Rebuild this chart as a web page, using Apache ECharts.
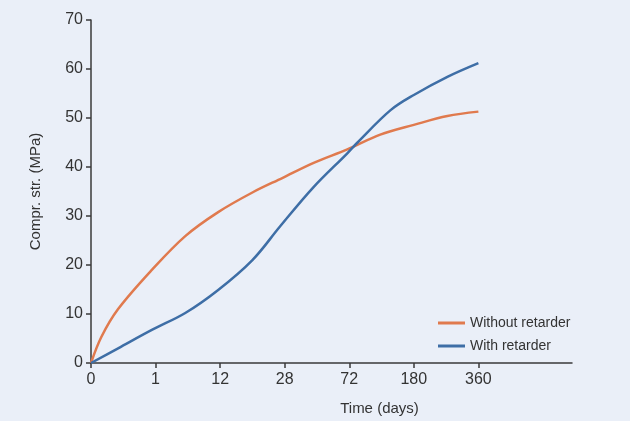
<!DOCTYPE html>
<html>
<head>
<meta charset="utf-8">
<script src="https://cdn.jsdelivr.net/npm/echarts@6/dist/echarts.min.js"></script>
<style>
  html, body { margin: 0; padding: 0; background: #eaeff8; }
  #chart { width: 630px; height: 421px; }
</style>
</head>
<body>
<div id="chart"></div>
<script>
// tick labels on the time axis (equally spaced, not to scale)
var timeLabels = ['0', '1', '12', '28', '72', '180', '360'];
var tickPos = [0, 1, 2, 3, 4, 5, 6];

// [position along the time axis, strength MPa]
var withoutRetarder = [
  [0, 0], [0.16, 5.3], [0.42, 11], [0.95, 19.1], [1.46, 25.9], [1.97, 30.8],
  [2.5, 34.8], [2.97, 37.8], [3.44, 40.8], [3.97, 43.6], [4.48, 46.6],
  [5.0, 48.6], [5.52, 50.4], [6.0, 51.3]
];
var withRetarder = [
  [0, 0], [0.42, 3.0], [0.95, 6.8], [1.46, 10.2], [1.97, 14.9], [2.5, 21],
  [2.93, 27.9], [3.44, 35.8], [3.97, 42.8], [4.12, 44.9], [4.64, 51.6],
  [5.0, 54.7], [5.52, 58.4], [6.0, 61.2]
];

var font = 'Liberation Sans, Arial, sans-serif';
var axisColor = '#3a3a3a';

var myChart = echarts.init(document.getElementById('chart'));

myChart.setOption({
  backgroundColor: '#eaeff8',
  animation: false,
  grid: { left: 91, right: 58, top: 20, bottom: 58, containLabel: false },
  legend: {
    orient: 'vertical',
    left: 433,
    top: 311,
    itemWidth: 27,
    itemHeight: 3,
    itemGap: 9,
    icon: 'rect',
    textStyle: { fontFamily: font, fontSize: 14, color: '#333' },
    data: ['Without retarder', 'With retarder']
  },
  xAxis: {
    type: 'value',
    min: 0,
    max: 7.45,
    name: 'Time (days)',
    nameLocation: 'middle',
    nameGap: 38,
    nameTextStyle: { fontFamily: font, fontSize: 15, color: '#333', padding: [0, 0, 0, 96] },
    axisLine: { show: true, lineStyle: { color: axisColor, width: 1.5 } },
    axisTick: { show: true, length: 5, customValues: tickPos, lineStyle: { color: axisColor, width: 1.5 } },
    axisLabel: {
      customValues: tickPos,
      margin: 9,
      fontFamily: font, fontSize: 16, color: '#333',
      formatter: function (v) { return timeLabels[Math.round(v)]; }
    },
    splitLine: { show: false }
  },
  yAxis: {
    type: 'value',
    min: 0,
    max: 70,
    interval: 10,
    name: 'Compr. str. (MPa)',
    nameLocation: 'middle',
    nameGap: 48,
    nameTextStyle: { fontFamily: font, fontSize: 15, color: '#333' },
    axisLine: { show: true, lineStyle: { color: axisColor, width: 1.5 } },
    axisTick: { show: true, length: 5, lineStyle: { color: axisColor, width: 1.5 } },
    axisLabel: { margin: 8, fontFamily: font, fontSize: 16, color: '#333' },
    splitLine: { show: false }
  },
  series: [
    {
      name: 'Without retarder',
      type: 'line',
      smooth: 0.35,
      showSymbol: false,
      data: withoutRetarder,
      itemStyle: { color: '#e07a4e' },
      lineStyle: { color: '#e07a4e', width: 2.5 }
    },
    {
      name: 'With retarder',
      type: 'line',
      smooth: 0.35,
      showSymbol: false,
      data: withRetarder,
      itemStyle: { color: '#3e6ea6' },
      lineStyle: { color: '#3e6ea6', width: 2.5 }
    }
  ]
});
</script>
</body>
</html>
